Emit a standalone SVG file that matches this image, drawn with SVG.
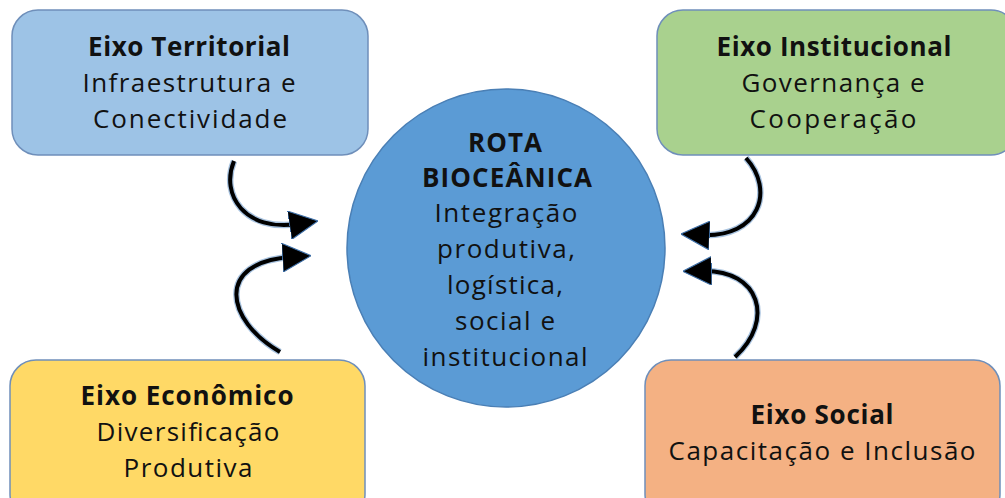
<svg xmlns="http://www.w3.org/2000/svg" width="1005" height="498" viewBox="0 0 1005 498">
<style>
.box{stroke:#6f8fba;stroke-width:1.5}
text{font-family:"Open Sans","Liberation Sans",sans-serif;font-size:26px;fill:#111;text-anchor:middle}
.b{font-weight:bold}
.arr{fill:none;stroke:#000;stroke-width:4}
.glow{fill:none;stroke:#4f86c0;stroke-width:6.5;stroke-opacity:0.5}
</style>
<defs>
<marker id="ah" viewBox="0 0 10 10" refX="3" refY="5" markerWidth="7.2" markerHeight="7.2" orient="auto" markerUnits="strokeWidth">
<path d="M0,0 L10,5 L0,10 Z" fill="#000" stroke="#3d6fa8" stroke-width="0.4"/>
</marker>
</defs>
<rect width="1005" height="498" fill="#fff"/>
<g id="territorial">
<rect class="box" x="12" y="10" width="356" height="145" rx="26" fill="#9dc3e6"/>
<text x="189" y="56" class="b" textLength="202" lengthAdjust="spacing">Eixo Territorial</text>
<text x="189" y="92" textLength="213" lengthAdjust="spacing">Infraestrutura e</text>
<text x="190" y="128" textLength="194" lengthAdjust="spacing">Conectividade</text>
</g>
<g id="institucional">
<rect class="box" x="657" y="10" width="360" height="145" rx="26" fill="#a9d18e"/>
<text x="834" y="56" class="b" textLength="235" lengthAdjust="spacing">Eixo Institucional</text>
<text x="833" y="92" textLength="183" lengthAdjust="spacing">Governança e</text>
<text x="833" y="128" textLength="167" lengthAdjust="spacing">Cooperação</text>
</g>
<g id="economico">
<rect class="box" x="10" y="360" width="355" height="160" rx="26" fill="#ffd966"/>
<text x="187" y="405" class="b" textLength="213" lengthAdjust="spacing">Eixo Econômico</text>
<text x="188" y="441" textLength="183" lengthAdjust="spacing">Diversificação</text>
<text x="188" y="477" textLength="129" lengthAdjust="spacing">Produtiva</text>
</g>
<g id="social">
<rect class="box" x="645" y="360" width="355" height="160" rx="26" fill="#f4b183"/>
<text x="822" y="424" class="b" textLength="143" lengthAdjust="spacing">Eixo Social</text>
<text x="822" y="460" textLength="307" lengthAdjust="spacing">Capacitação e Inclusão</text>
</g>
<g id="rota">
<circle cx="506" cy="248" r="159" fill="#5b9bd5" stroke="#4a7fb5" stroke-width="1.5"/>
<text x="505" y="152" class="b" textLength="74" lengthAdjust="spacing">ROTA</text>
<text x="507" y="187" class="b" textLength="170" lengthAdjust="spacing">BIOCEÂNICA</text>
<text x="506" y="222" textLength="143" lengthAdjust="spacing">Integração</text>
<text x="506" y="258" textLength="138" lengthAdjust="spacing">produtiva,</text>
<text x="505" y="294" textLength="116" lengthAdjust="spacing">logística,</text>
<text x="505" y="330" textLength="100" lengthAdjust="spacing">social e</text>
<text x="505" y="366" textLength="165" lengthAdjust="spacing">institucional</text>
</g>
<g id="connectors">
<path class="glow" d="M234,161 C220,195 245,232 298,224"/>
<path class="glow" d="M280,352 C225,320 215,262 291,257"/>
<path class="glow" d="M746,158 C775,190 760,238 701,235"/>
<path class="glow" d="M735,357 C775,320 760,270 703,271"/>
<path class="arr" marker-end="url(#ah)" d="M234,161 C220,195 245,232 298,224"/>
<path class="arr" marker-end="url(#ah)" d="M280,352 C225,320 215,262 291,257"/>
<path class="arr" marker-end="url(#ah)" d="M746,158 C775,190 760,238 701,235"/>
<path class="arr" marker-end="url(#ah)" d="M735,357 C775,320 760,270 703,271"/>
</g>
</svg>
